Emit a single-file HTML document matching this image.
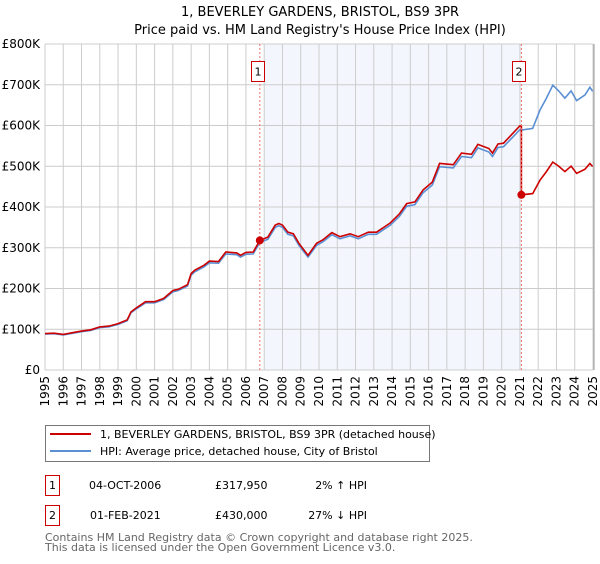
<!DOCTYPE html>
<html><head><meta charset="utf-8"><style>
body{margin:0;background:#fff;font-family:"DejaVu Sans","Liberation Sans",sans-serif;}
svg text{font-family:"DejaVu Sans","Liberation Sans",sans-serif;}
</style></head><body>
<svg id="chart" width="600" height="560" xmlns="http://www.w3.org/2000/svg">
<text x="320" y="16" font-size="13" text-anchor="middle" fill="#000">1, BEVERLEY GARDENS, BRISTOL, BS9 3PR</text>
<text x="320" y="34" font-size="13" text-anchor="middle" fill="#000">Price paid vs. HM Land Registry's House Price Index (HPI)</text>
<g id="plot"></g>
<g>
<rect x="45.5" y="425.5" width="384" height="36" fill="#fff" stroke="#777"/>
<line x1="50" y1="434" x2="91" y2="434" stroke="#cc0000" stroke-width="2"/>
<text x="100" y="438" font-size="11">1, BEVERLEY GARDENS, BRISTOL, BS9 3PR (detached house)</text>
<line x1="50" y1="451" x2="91" y2="451" stroke="#5b8fd4" stroke-width="2"/>
<text x="100" y="455" font-size="11">HPI: Average price, detached house, City of Bristol</text>
</g>
<g font-size="11">
<rect x="45.5" y="475.5" width="14" height="20" fill="none" stroke="#cc0000"/>
<text x="52.5" y="489" text-anchor="middle">1</text>
<text x="89" y="489">04-OCT-2006</text>
<text x="215" y="489">£317,950</text>
<text x="367" y="489" text-anchor="end">2% ↑ HPI</text>
</g>
<g font-size="11">
<rect x="45.5" y="505.5" width="14" height="20" fill="none" stroke="#cc0000"/>
<text x="52.5" y="519" text-anchor="middle">2</text>
<text x="90" y="519">01-FEB-2021</text>
<text x="215" y="519">£430,000</text>
<text x="367" y="519" text-anchor="end">27% ↓ HPI</text>
</g>
<text x="45" y="541" font-size="11" fill="#666">Contains HM Land Registry data © Crown copyright and database right 2025.</text>
<text x="45" y="551" font-size="11" fill="#666">This data is licensed under the Open Government Licence v3.0.</text>
</svg>
<script>
const years=[1995,1995.5,1996,1996.5,1997,1997.5,1998,1998.5,1999,1999.5,1999.7,2000,2000.5,2001,2001.5,2002,2002.3,2002.8,2003,2003.2,2003.7,2004,2004.5,2004.9,2005.5,2005.7,2006,2006.4,2006.76,2007.2,2007.6,2007.8,2008,2008.3,2008.6,2008.9,2009.4,2009.87,2010.2,2010.7,2011.15,2011.7,2012.15,2012.7,2013.15,2013.9,2014.4,2014.8,2015.25,2015.7,2016.2,2016.6,2017.35,2017.8,2018.35,2018.7,2019.3,2019.5,2019.8,2020.1,2020.6,2021.0,2021.08,2021.7,2022.1,2022.45,2022.8,2023.1,2023.46,2023.8,2024.1,2024.56,2024.83,2024.98];
const hpi=[88,89,86,90,94,97,104,106,112,121,140,150,165,165,173,192,195,206,233,241,253,263,262,285,283,277,284,285,313,321,350,354,350,333,329,306,277,306,314,332,322,329,322,333,333,355,377,402,406,435,454,499,496,524,521,545,535,524,546,548,571,590,589,593,638,667,699,686,667,685,661,675,694,684];
const saleDates=[2006.76,2021.08];
const salePrices=[317950,430000];
const yTicks=[0,100000,200000,300000,400000,500000,600000,700000,800000];
const yTickLabels=["£0","£100K","£200K","£300K","£400K","£500K","£600K","£700K","£800K"];
const xTicks=[1995,1996,1997,1998,1999,2000,2001,2002,2003,2004,2005,2006,2007,2008,2009,2010,2011,2012,2013,2014,2015,2016,2017,2018,2019,2020,2021,2022,2023,2024,2025];

const NS="http://www.w3.org/2000/svg";
const L=45,R=593,T=44,B=370;
const xS=y=>L+(y-1995)/30*(R-L);
const yS=v=>B-v/800000*(B-T);
const plot=document.getElementById('plot');
function mk(tag,attrs,parent){const e=document.createElementNS(NS,tag);for(const k in attrs)e.setAttribute(k,attrs[k]);(parent||plot).appendChild(e);return e;}

function hpiAt(d){for(let i=0;i<years.length-1;i++){if(d>=years[i]&&d<=years[i+1]){const t=(d-years[i])/(years[i+1]-years[i]);return hpi[i]+t*(hpi[i+1]-hpi[i]);}}return hpi[hpi.length-1];}

const shade=mk('rect',{x:xS(2007),y:T,width:xS(saleDates[1])-xS(2007),height:B-T,fill:'#eef3fc',opacity:0.7});



yTicks.forEach((v,i)=>{
  const g=mk('line',{x1:L,x2:R,y1:yS(v),y2:yS(v),stroke:'#ccc','stroke-width':1});
  
  
  const t=mk('text',{x:L-5,y:yS(v)+4,'font-size':12,'text-anchor':'end',fill:'#000'});
  t.textContent=yTickLabels[i];
  
  
});
xTicks.forEach(yr=>{
  const g=mk('line',{x1:xS(yr),x2:xS(yr),y1:T,y2:B,stroke:'#ccc','stroke-width':1});
  
  
  const x=xS(yr)+4,y=B+6;
  const t=mk('text',{x:x,y:y,'font-size':12,'text-anchor':'end',fill:'#000',transform:`rotate(-90 ${x} ${y})`});
  t.textContent=yr;
  
  
});

let d='';years.forEach((yr,i)=>{d+=(i?'L':'M')+xS(yr).toFixed(1)+','+yS(hpi[i]*1000).toFixed(1);});
const hl=mk('path',{d:d,fill:'none',stroke:'#5b8fd4','stroke-width':1.6});



const r1=salePrices[0]/(hpiAt(saleDates[0])*1000), r2=salePrices[1]/(hpiAt(saleDates[1])*1000);
let pd='';let first=true;
years.forEach((yr,i)=>{
  if(yr<saleDates[1]){pd+=(first?'M':'L')+xS(yr).toFixed(1)+','+yS(hpi[i]*1000*r1).toFixed(1);first=false;}
});
pd+='L'+xS(saleDates[1]).toFixed(1)+','+yS(hpiAt(saleDates[1])*1000*r1).toFixed(1);
years.forEach((yr,i)=>{ if(yr>=saleDates[1]) pd+='L'+xS(yr).toFixed(1)+','+yS(hpi[i]*1000*r2).toFixed(1);});
const pl=mk('path',{d:pd,fill:'none',stroke:'#cc0000','stroke-width':1.6});



saleDates.forEach((sd,i)=>{
  const v=mk('line',{x1:xS(sd),x2:xS(sd),y1:T,y2:B,stroke:'#f07070','stroke-width':1,'stroke-dasharray':'2,2'});
  
  
  const c=mk('circle',{cx:xS(sd),cy:yS(salePrices[i]),r:4,fill:'#cc0000'});
  
  
  const bx=mk('rect',{x:Math.round(xS(sd)-9)+0.5,y:61.5,width:13,height:20,fill:'#fff',stroke:'#cc0000'});
  
  
  const t=mk('text',{x:Math.round(xS(sd)-9)+7,y:75.5,'font-size':11,'text-anchor':'middle'});
  t.textContent=String(i+1);
  
  
});
const ax=mk('line',{x1:R+1,x2:R+1,y1:T,y2:B,stroke:'#999'});


</script>
</body></html>
